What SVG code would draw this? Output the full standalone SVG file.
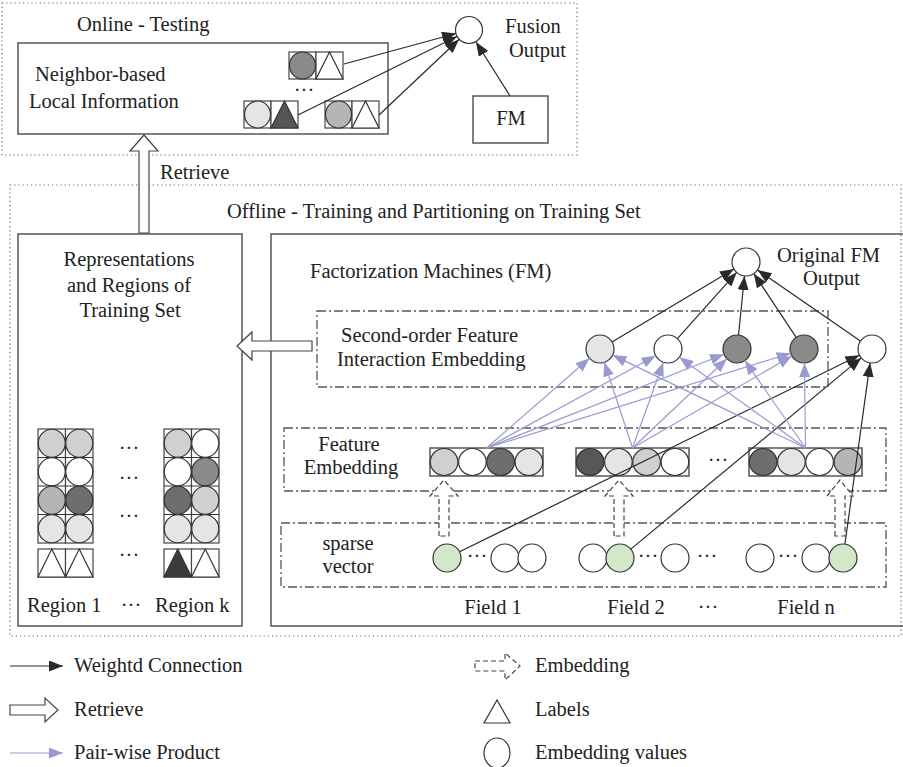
<svg xmlns="http://www.w3.org/2000/svg" width="903" height="767" viewBox="0 0 903 767">
<defs>
<style>
.t{font-family:"Liberation Serif","Times New Roman",serif;font-size:20.5px;fill:#222}
.m{text-anchor:middle}
.box{fill:none;stroke:#555;stroke-width:1.5}
.cell{fill:#fff;stroke:#444;stroke-width:1.2}
.dot{fill:none;stroke:#666;stroke-width:1.2;stroke-dasharray:1.2 3}
.dd{fill:none;stroke:#555;stroke-width:1.3;stroke-dasharray:9 3 2 3}
.w{stroke:#2a2a2a;stroke-width:1.2;fill:none;marker-end:url(#ab)}
.p{stroke:#9a9ad2;stroke-width:1.2;fill:none;marker-end:url(#ap)}
.ha{fill:#fff;stroke:#444;stroke-width:1.2}
.he{fill:#fff;stroke:#444;stroke-width:1.2;stroke-dasharray:5 3}
.n{stroke:#333;stroke-width:1.2}
</style>
<marker id="ab" markerUnits="userSpaceOnUse" markerWidth="14" markerHeight="11" refX="14" refY="5.5" orient="auto"><path d="M0,0 L14,5.5 L0,11 z" fill="#2a2a2a"/></marker>
<marker id="ap" markerUnits="userSpaceOnUse" markerWidth="14" markerHeight="11" refX="14" refY="5.5" orient="auto"><path d="M0,0 L14,5.5 L0,11 z" fill="#9a9ad2"/></marker>
</defs>
<rect width="903" height="767" fill="#fff"/>

<g id="online">
<rect class="dot" x="2" y="3" width="575" height="152"/>
<text class="t" x="77" y="31">Online - Testing</text>
</g>
<g id="offline">
<rect class="dot" x="10" y="185" width="891" height="451"/>
<text class="t" x="227" y="218">Offline - Training and Partitioning on Training Set</text>
</g>

<g id="neighbor">
<rect class="box" x="18" y="43" width="370" height="91"/>
<text class="t" x="35" y="81">Neighbor-based</text>
<text class="t" x="29" y="108">Local Information</text>
<rect class="cell" x="289" y="52" width="27" height="27"/><rect class="cell" x="316" y="52" width="27" height="27"/>
<ellipse cx="302.5" cy="65.5" rx="13" ry="13.5" fill="#8a8a8a" class="n"/>
<polygon points="316,79 343,79 329.5,52" fill="#fff" class="n"/>
<text class="t m" x="304" y="97">···</text>
<rect class="cell" x="244" y="101" width="27" height="27"/><rect class="cell" x="271" y="101" width="27" height="27"/>
<ellipse cx="257.5" cy="114.5" rx="13" ry="13.5" fill="#e4e5e4" class="n"/>
<polygon points="271,128 298,128 284.5,101" fill="#555" class="n"/>
<rect class="cell" x="325" y="101" width="27" height="27"/><rect class="cell" x="352" y="101" width="27" height="27"/>
<ellipse cx="338.5" cy="114.5" rx="13" ry="13.5" fill="#b5b5b5" class="n"/>
<polygon points="352,128 379,128 365.5,101" fill="#fff" class="n"/>
</g>

<g id="fusion">
<circle cx="469" cy="30" r="13.5" fill="#fff" class="n"/>
<text class="t" x="505" y="33">Fusion</text>
<text class="t" x="509" y="57">Output</text>
</g>
<g id="fm-small">
<rect class="box" x="473" y="96" width="75" height="47"/>
<text class="t m" x="511" y="125">FM</text>
</g>

<g id="regions">
<rect class="box" x="18" y="234" width="224" height="392"/>
<text class="t m" x="129" y="266">Representations</text>
<text class="t m" x="129" y="292">and Regions of</text>
<text class="t m" x="130" y="317">Training Set</text>
<rect class="cell" x="38" y="429" width="27.5" height="114"/><rect class="cell" x="65.5" y="429" width="27.5" height="114"/>
<line x1="38" y1="457.5" x2="93" y2="457.5" class="n"/><line x1="38" y1="486" x2="93" y2="486" class="n"/><line x1="38" y1="514.5" x2="93" y2="514.5" class="n"/>
<ellipse cx="51.75" cy="443.25" rx="13.5" ry="14" fill="#d0d0d0" class="n"/>
<ellipse cx="51.75" cy="471.75" rx="13.5" ry="14" fill="#fff" class="n"/>
<ellipse cx="51.75" cy="500.25" rx="13.5" ry="14" fill="#b5b5b5" class="n"/>
<ellipse cx="51.75" cy="528.75" rx="13.5" ry="14" fill="#e4e5e4" class="n"/>
<ellipse cx="79.25" cy="443.25" rx="13.5" ry="14" fill="#d0d0d0" class="n"/>
<ellipse cx="79.25" cy="471.75" rx="13.5" ry="14" fill="#fff" class="n"/>
<ellipse cx="79.25" cy="500.25" rx="13.5" ry="14" fill="#6e6e6e" class="n"/>
<ellipse cx="79.25" cy="528.75" rx="13.5" ry="14" fill="#e4e5e4" class="n"/>
<rect class="cell" x="38" y="549" width="27.5" height="28"/><rect class="cell" x="65.5" y="549" width="27.5" height="28"/>
<polygon points="38,577 65.5,577 51.75,549" fill="#fff" class="n"/>
<polygon points="65.5,577 93,577 79.25,549" fill="#fff" class="n"/>
<rect class="cell" x="164" y="429" width="27.5" height="114"/><rect class="cell" x="191.5" y="429" width="27.5" height="114"/>
<line x1="164" y1="457.5" x2="219" y2="457.5" class="n"/><line x1="164" y1="486" x2="219" y2="486" class="n"/><line x1="164" y1="514.5" x2="219" y2="514.5" class="n"/>
<ellipse cx="177.75" cy="443.25" rx="13.5" ry="14" fill="#d0d0d0" class="n"/>
<ellipse cx="177.75" cy="471.75" rx="13.5" ry="14" fill="#fff" class="n"/>
<ellipse cx="177.75" cy="500.25" rx="13.5" ry="14" fill="#6e6e6e" class="n"/>
<ellipse cx="177.75" cy="528.75" rx="13.5" ry="14" fill="#e4e5e4" class="n"/>
<ellipse cx="205.25" cy="443.25" rx="13.5" ry="14" fill="#fff" class="n"/>
<ellipse cx="205.25" cy="471.75" rx="13.5" ry="14" fill="#8a8a8a" class="n"/>
<ellipse cx="205.25" cy="500.25" rx="13.5" ry="14" fill="#d0d0d0" class="n"/>
<ellipse cx="205.25" cy="528.75" rx="13.5" ry="14" fill="#e4e5e4" class="n"/>
<rect class="cell" x="164" y="549" width="27.5" height="28"/><rect class="cell" x="191.5" y="549" width="27.5" height="28"/>
<polygon points="164,577 191.5,577 177.75,549" fill="#3c3c3c" class="n"/>
<polygon points="191.5,577 219,577 205.25,549" fill="#fff" class="n"/>
<text class="t m" x="129" y="455">···</text>
<text class="t m" x="129" y="485">···</text>
<text class="t m" x="129" y="523">···</text>
<text class="t m" x="129" y="562">···</text>
<text class="t" x="27" y="612">Region 1</text>
<text class="t m" x="131" y="612">···</text>
<text class="t" x="155" y="612">Region k</text>
</g>

<g id="fm">
<rect class="box" x="271" y="234" width="640" height="392"/>
<text class="t" x="310" y="278">Factorization Machines (FM)</text>
</g>
<g id="fm-output">
<circle cx="746" cy="262" r="14" fill="#fff" class="n"/>
<text class="t" x="777" y="262">Original FM</text>
<text class="t" x="803" y="285">Output</text>
</g>
<g id="second-order">
<rect class="dd" x="317" y="311" width="511" height="76"/>
<text class="t" x="341" y="342">Second-order Feature</text>
<text class="t" x="337" y="366">Interaction Embedding</text>
<circle cx="600" cy="349" r="14" fill="#e4e5e4" class="n"/>
<circle cx="668" cy="349" r="14" fill="#fff" class="n"/>
<circle cx="737" cy="349" r="14" fill="#8a8a8a" class="n"/>
<circle cx="804" cy="349" r="14" fill="#8a8a8a" class="n"/>
</g>
<g id="first-order">
<circle cx="872" cy="349" r="14" fill="#fff" class="n"/>
</g>
<g id="feature-embedding">
<rect class="dd" x="284" y="428" width="602" height="63"/>
<text class="t m" x="349" y="451">Feature</text>
<text class="t m" x="351" y="474">Embedding</text>
<rect class="box" x="430" y="448" width="113" height="28"/>
<ellipse cx="444.1" cy="462" rx="13.8" ry="13.5" fill="#d0d0d0" class="n"/>
<ellipse cx="472.4" cy="462" rx="13.8" ry="13.5" fill="#fff" class="n"/>
<ellipse cx="500.6" cy="462" rx="13.8" ry="13.5" fill="#6e6e6e" class="n"/>
<ellipse cx="528.9" cy="462" rx="13.8" ry="13.5" fill="#e4e5e4" class="n"/>
<rect class="box" x="576" y="448" width="113" height="28"/>
<ellipse cx="590.1" cy="462" rx="13.8" ry="13.5" fill="#575757" class="n"/>
<ellipse cx="618.4" cy="462" rx="13.8" ry="13.5" fill="#e4e5e4" class="n"/>
<ellipse cx="646.6" cy="462" rx="13.8" ry="13.5" fill="#d0d0d0" class="n"/>
<ellipse cx="674.9" cy="462" rx="13.8" ry="13.5" fill="#fff" class="n"/>
<text class="t m" x="718" y="467">···</text>
<rect class="box" x="749" y="448" width="113" height="28"/>
<ellipse cx="763.1" cy="462" rx="13.8" ry="13.5" fill="#6e6e6e" class="n"/>
<ellipse cx="791.4" cy="462" rx="13.8" ry="13.5" fill="#e4e5e4" class="n"/>
<ellipse cx="819.6" cy="462" rx="13.8" ry="13.5" fill="#fff" class="n"/>
<ellipse cx="847.9" cy="462" rx="13.8" ry="13.5" fill="#b5b5b5" class="n"/>
</g>
<g id="sparse-vector">
<rect class="dd" x="281" y="523" width="605" height="64"/>
<text class="t m" x="348" y="550">sparse</text>
<text class="t m" x="348" y="573">vector</text>
<circle cx="447" cy="558" r="14" fill="#d3e8c8" class="n"/>
<text class="t m" x="477" y="563">···</text>
<circle cx="505" cy="558" r="14" fill="#fff" class="n"/>
<circle cx="532" cy="558" r="14" fill="#fff" class="n"/>
<circle cx="593" cy="558" r="14" fill="#fff" class="n"/>
<circle cx="620" cy="558" r="14" fill="#d3e8c8" class="n"/>
<text class="t m" x="648" y="563">···</text>
<circle cx="675" cy="558" r="14" fill="#fff" class="n"/>
<text class="t m" x="707" y="563">···</text>
<circle cx="760" cy="558" r="14" fill="#fff" class="n"/>
<text class="t m" x="788" y="563">···</text>
<circle cx="816" cy="558" r="14" fill="#fff" class="n"/>
<circle cx="843" cy="558" r="14" fill="#d3e8c8" class="n"/>
<text class="t m" x="493" y="614">Field 1</text>
<text class="t m" x="636" y="614">Field 2</text>
<text class="t m" x="708" y="614">···</text>
<text class="t m" x="806" y="614">Field n</text>
</g>

<g id="connectors">
<polygon class="ha" points="139,233 139,151 130,151 144,135 158,151 149,151 149,233"/>
<text class="t" x="160" y="179">Retrieve</text>
<polygon class="ha" points="312,341 252,341 252,332 237,346 252,360 252,351 312,351"/>
<line class="w" x1="344" y1="64" x2="456" y2="33.5"/>
<line class="w" x1="298" y1="115" x2="457" y2="36.5"/>
<line class="w" x1="379" y1="115" x2="459" y2="39.5"/>
<line class="w" x1="510" y1="96" x2="476" y2="42"/>
<line class="w" x1="612" y1="342" x2="734" y2="269"/>
<line class="w" x1="677.4" y1="338.6" x2="736.6" y2="272.4"/>
<line class="w" x1="738.5" y1="335" x2="744.5" y2="276"/>
<line class="w" x1="796.2" y1="337.4" x2="753.8" y2="273.6"/>
<line class="w" x1="860.4" y1="341" x2="757.6" y2="270"/>
<line class="w" x1="459.6" y1="551.8" x2="859.4" y2="355.2"/>
<line class="w" x1="630.8" y1="549.1" x2="861.2" y2="357.9"/>
<line class="w" x1="844.9" y1="544.1" x2="870.1" y2="362.9"/>
<line class="p" x1="486.5" y1="448" x2="589.5" y2="358.3"/>
<line class="p" x1="632.5" y1="448" x2="604.3" y2="362.3"/>
<line class="p" x1="805.5" y1="448" x2="612.6" y2="355.1"/>
<line class="p" x1="486.5" y1="448" x2="655.7" y2="355.8"/>
<line class="p" x1="632.5" y1="448" x2="663.3" y2="362.2"/>
<line class="p" x1="805.5" y1="448" x2="679.3" y2="357.3"/>
<line class="p" x1="486.5" y1="448" x2="724" y2="354.2"/>
<line class="p" x1="632.5" y1="448" x2="726.9" y2="358.7"/>
<line class="p" x1="805.5" y1="448" x2="744.9" y2="360.6"/>
<line class="p" x1="486.5" y1="448" x2="790.6" y2="353.2"/>
<line class="p" x1="632.5" y1="448" x2="791.9" y2="356"/>
<line class="p" x1="805.5" y1="448" x2="804.5" y2="363"/>
<polygon class="he" points="439,536 439,496 430,496 444,480 458,496 449,496 449,536"/>
<polygon class="he" points="614,536 614,496 605,496 619,480 633,496 624,496 624,536"/>
<polygon class="he" points="835,536 835,496 827,496 840,480 853,496 845,496 845,536"/>
</g>

<g id="legend">
<line class="w" x1="10" y1="666" x2="63" y2="666"/>
<text class="t" x="74" y="672">Weightd Connection</text>
<polygon class="ha" points="10,705 45,705 45,698 58,710 45,722 45,715 10,715"/>
<text class="t" x="74" y="716">Retrieve</text>
<line class="p" x1="10" y1="753" x2="63" y2="753"/>
<text class="t" x="74" y="759">Pair-wise Product</text>
<polygon class="he" points="475,661 505,661 505,653 520,666 505,680 505,671 475,671"/>
<text class="t" x="535" y="672">Embedding</text>
<polygon points="484,723 510,723 497,700" fill="#fff" class="n"/>
<text class="t" x="535" y="716">Labels</text>
<ellipse cx="497" cy="753" rx="13" ry="15" fill="#fff" class="n"/>
<text class="t" x="535" y="759">Embedding values</text>
</g>
</svg>
